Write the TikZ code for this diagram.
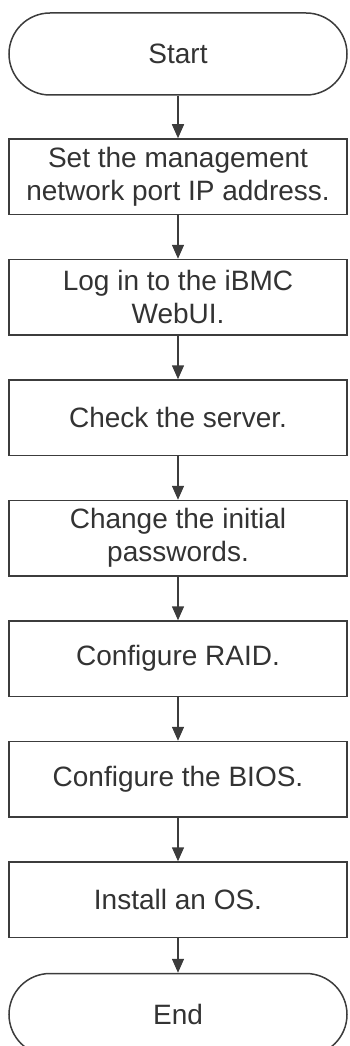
\documentclass[tikz,border=0pt]{standalone}
\usetikzlibrary{arrows.meta}
\usepackage{fontspec}
\setmainfont{Liberation Sans}
\definecolor{linegray}{HTML}{3C3C3C}
\definecolor{textgray}{HTML}{333333}

\begin{document}
\begin{tikzpicture}[x=1pt,y=1pt,line width=1.5pt,>={Triangle[length=14pt,width=12pt]},
  font=\fontsize{28}{33}\selectfont,
  stepbox/.style={draw=linegray,fill=white,text=textgray,align=center,
    minimum width=338pt,minimum height=75.5pt,inner sep=0pt},
  termbox/.style={stepbox,minimum height=82pt,rounded corners=41pt},
  flow/.style={draw=linegray,->}]
\useasboundingbox (0,0) rectangle (349,-1046);
% 开始
\node[termbox] (start) at (178,-54) {Start};
% 各步骤
\node[stepbox] (ip) at (178,-176.75) {Set the management\\network port IP address.};
\node[stepbox] (login) at (178,-297.25) {Log in to the iBMC\\WebUI.};
\node[stepbox] (check) at (178,-417.75) {Check the server.};
\node[stepbox] (passwd) at (178,-538.25) {Change the initial\\passwords.};
\node[stepbox] (raid) at (178,-658.75) {Configure RAID.};
\node[stepbox] (bios) at (178,-779.25) {Configure the BIOS.};
\node[stepbox] (os) at (178,-899.75) {Install an OS.};
% 结束
\node[termbox] (end) at (178,-1014.5) {End};
% 连线
\draw[flow] (start) -- (ip);
\draw[flow] (ip) -- (login);
\draw[flow] (login) -- (check);
\draw[flow] (check) -- (passwd);
\draw[flow] (passwd) -- (raid);
\draw[flow] (raid) -- (bios);
\draw[flow] (bios) -- (os);
\draw[flow] (os) -- (end);
\end{tikzpicture}
\end{document}
